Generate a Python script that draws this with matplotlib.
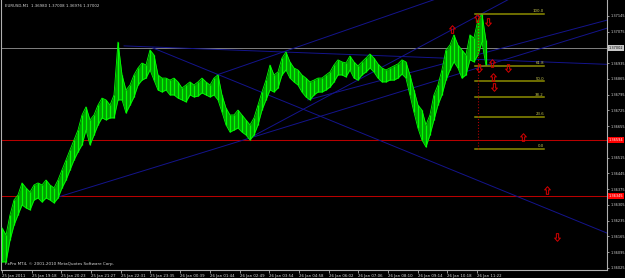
import numpy as np
import matplotlib
matplotlib.use('Agg')
import matplotlib.pyplot as plt
from matplotlib.path import Path

# EURUSD M1 - price range per group of bars, in pips above 1.3600
bar_step = 8.62  # minutes between groups
highs_pips = [20.3, 17.2, 26.1, 32.7, 35.0, 40.3, 38.1, 36.3, 39.4, 40.3,
              39.4, 41.6, 39.4, 38.1, 41.6, 46.1, 50.5, 55.0, 59.4, 63.8,
              70.5, 74.1, 68.3, 70.5, 74.9, 78.0, 77.2, 74.9, 79.4, 102.9,
              88.3, 81.6, 83.8, 88.3, 91.4, 93.6, 92.7, 99.4, 97.2, 88.3,
              86.9, 86.9, 86.0, 86.9, 85.2, 82.5, 83.8, 85.2, 83.8, 85.2,
              86.9, 85.2, 83.8, 86.9, 88.3, 79.4, 73.6, 70.5, 70.5, 72.7,
              70.5, 68.3, 66.1, 69.2, 74.9, 80.7, 86.0, 92.7, 88.3, 89.6,
              95.8, 98.5, 94.1, 91.4, 90.5, 88.3, 86.9, 85.2, 86.0, 86.9,
              86.9, 88.3, 89.6, 92.7, 95.0, 94.1, 93.6, 96.7, 94.1, 92.3,
              94.1, 95.8, 97.6, 95.8, 93.2, 91.4, 90.5, 91.4, 92.3, 93.2,
              95.0, 94.1, 88.3, 81.6, 74.9, 72.7, 66.1, 70.5, 79.4, 83.8,
              90.5, 99.4, 101.6, 106.1, 101.6, 99.4, 97.2, 106.1, 104.7, 112.7,
              115.4, 103.8]
lows_pips = [5.2, 5.2, 14.9, 21.6, 26.1, 30.5, 29.2, 28.3, 32.7, 33.6,
             31.8, 33.6, 32.7, 31.4, 33.6, 38.1, 41.6, 46.1, 50.5, 54.1,
             57.2, 63.8, 57.2, 61.6, 66.1, 69.2, 68.3, 69.2, 69.2, 77.2,
             77.2, 71.4, 74.9, 78.5, 83.8, 86.0, 86.9, 90.5, 86.0, 81.6,
             80.7, 81.6, 79.4, 79.4, 78.0, 77.2, 76.3, 79.4, 78.5, 78.9,
             80.3, 79.4, 78.5, 79.4, 77.2, 71.8, 66.1, 62.9, 63.8, 64.7,
             62.9, 61.6, 59.4, 61.6, 66.1, 72.7, 77.2, 81.6, 80.7, 82.5,
             88.3, 90.5, 86.9, 85.2, 83.8, 80.7, 78.5, 77.2, 79.4, 80.7,
             80.7, 81.6, 82.9, 85.2, 88.3, 88.3, 87.4, 90.5, 86.9, 86.0,
             88.3, 89.6, 91.4, 89.6, 86.9, 85.2, 85.2, 86.0, 86.0, 86.9,
             88.7, 86.9, 79.4, 71.8, 64.7, 59.4, 56.3, 61.6, 68.3, 74.9,
             79.4, 86.0, 90.5, 94.1, 91.4, 86.9, 88.3, 95.0, 94.1, 97.2,
             102.9, 92.7]

tick_minutes = [0, 64, 128, 192, 256, 320, 384, 448, 512, 576, 640, 704,
                768, 832, 896, 960, 1024]
tick_labels = ['25 Jan 2011', '25 Jan 19:18', '25 Jan 20:23', '25 Jan 21:27',
               '25 Jan 22:31', '25 Jan 23:35', '26 Jan 00:39', '26 Jan 01:44',
               '26 Jan 02:49', '26 Jan 03:54', '26 Jan 04:58', '26 Jan 06:02',
               '26 Jan 07:06', '26 Jan 08:10', '26 Jan 09:14', '26 Jan 10:18',
               '26 Jan 11:22']
price_ticks = [1.37145, 1.37075, 1.36935, 1.36865, 1.36795, 1.36725, 1.36655,
               1.36515, 1.36445, 1.36375, 1.36305, 1.36235, 1.36165, 1.36095,
               1.36025]

bid = 1.37002
red_levels = [1.36594, 1.36345]

# fibonacci retracement
fib_low, fib_high = 1.36554, 1.37154
fib_ratios = [0.0, 23.6, 38.2, 50.0, 61.8, 100.0]
fib_t0, fib_t1 = 1019, 1168
fib_anchor_t = 1026

# trendlines: (t1, p1, t2, p2), drawn as rays to the right
trendlines = [
    (263, 1.37012, 606, 1.36985),
    (325, 1.37003, 463, 1.36887),
    (114, 1.36336, 535, 1.36603),
    (534, 1.36603, 901, 1.37008),
    (463, 1.36883, 743, 1.37083),
    (659, 1.36772, 901, 1.36905),
]

# fractal style arrows
arrow_t = [970, 1024, 1047, 1056, 1028, 1090, 1058, 1060, 1123, 1174, 1196]
arrow_p = [1.37087, 1.37136, 1.37118, 1.36936, 1.36914, 1.36914, 1.36874,
           1.36829, 1.36607, 1.36372, 1.36163]
arrow_up = [True, True, False, True, False, False, True, False, True, True, False]

FS = 2.8
YFS = 2.5
fg = '#d8d8d8'

# hollow arrow marker like the terminal's arrow objects
up_verts = [(0, 1), (0.75, 0.15), (0.3, 0.15), (0.3, -1), (-0.3, -1),
            (-0.3, 0.15), (-0.75, 0.15), (0, 1)]
up_marker = Path(up_verts, closed=True)
down_marker = Path([(x, -y) for x, y in up_verts], closed=True)

fig = plt.figure(figsize=(6.25, 2.78), dpi=100, facecolor='black')
ax = fig.add_axes([1 / 625, 8 / 278, 606 / 625, 270 / 278])
ax.set_facecolor('black')
xmin, xmax = -2.2, 1304
ax.set_xlim(xmin, xmax)
ax.set_ylim(1.36016, 1.37216)

t = np.arange(len(highs_pips)) * bar_step
hi = 1.36 + np.array(highs_pips) / 10000
lo = 1.36 + np.array(lows_pips) / 10000
ax.fill_between(t, lo, hi, color='#00a000', lw=0, zorder=3)
ax.vlines(t, lo, hi, color='#00ff00', lw=0.9, zorder=4)
ax.plot(t, hi, color='#00ff00', lw=0.6, zorder=4)
ax.plot(t, lo, color='#00ff00', lw=0.6, zorder=4)

# bid line and levels
ax.axhline(bid, color='#808080', lw=0.7, zorder=2)
for lv in red_levels:
    ax.axhline(lv, color='#b80000', lw=0.75, zorder=2)

for t1, p1, t2, p2 in trendlines:
    slope = (p2 - p1) / (t2 - t1)
    ax.plot([t1, xmax], [p1, p1 + slope * (xmax - t1)], color='#14148c',
            lw=0.7, zorder=2)

for r in fib_ratios:
    lv = fib_low + (fib_high - fib_low) * r / 100
    ax.plot([fib_t0, fib_t1], [lv, lv], color='#8c8c00', lw=1.1, zorder=5)
    ax.text(fib_t1, lv + 0.00003, f'{r:.1f}', color='#c8c850', fontsize=FS,
            ha='right', va='bottom', zorder=6)
ax.plot([fib_anchor_t, fib_anchor_t], [fib_low, fib_high], color='#b00000',
        lw=0.8, ls=':', zorder=5)

for at, ap, up in zip(arrow_t, arrow_p, arrow_up):
    ax.plot(at, ap, marker=up_marker if up else down_marker, ms=5.5,
            mfc='none', mec='#d80000', mew=0.7, zorder=6)

# axes styling
ax.spines['top'].set_visible(False)
for s in ['left', 'right', 'bottom']:
    ax.spines[s].set_color('#b0b0b0')
    ax.spines[s].set_linewidth(0.8)
ax.yaxis.tick_right()
ax.set_yticks(price_ticks)
ax.set_yticklabels([f'{p:.5f}' for p in price_ticks])
ax.set_xticks(tick_minutes)
ax.set_xticklabels(tick_labels, ha='left')
ax.tick_params(axis='both', colors='#b0b0b0', labelcolor=fg, labelsize=FS,
               length=2, width=0.6, pad=1)
ax.tick_params(axis='y', labelsize=YFS, length=1.5, pad=0.8)

trans = ax.get_yaxis_transform()
ax.text(1.003, bid, f'{bid:.5f}', transform=trans, fontsize=YFS, color='black',
        va='center', ha='left', clip_on=False,
        bbox=dict(facecolor='#c8c8c8', edgecolor='none', pad=0.5))
for lv in red_levels:
    ax.text(1.003, lv, f'{lv:.5f}', transform=trans, fontsize=YFS, color='white',
            va='center', ha='left', clip_on=False,
            bbox=dict(facecolor='#ff0000', edgecolor='none', pad=0.5))

ax.text(0.006, 0.985, 'EURUSD,M1  1.36980 1.37008 1.36976 1.37002',
        transform=ax.transAxes, fontsize=FS, color=fg, va='top', ha='left')
ax.text(0.006, 0.015, 'FxPro MT4, \u00a9 2001-2010 MetaQuotes Software Corp.',
        transform=ax.transAxes, fontsize=3.0, color=fg, va='bottom', ha='left')

fig.savefig('out.png', dpi=100, facecolor='black')
